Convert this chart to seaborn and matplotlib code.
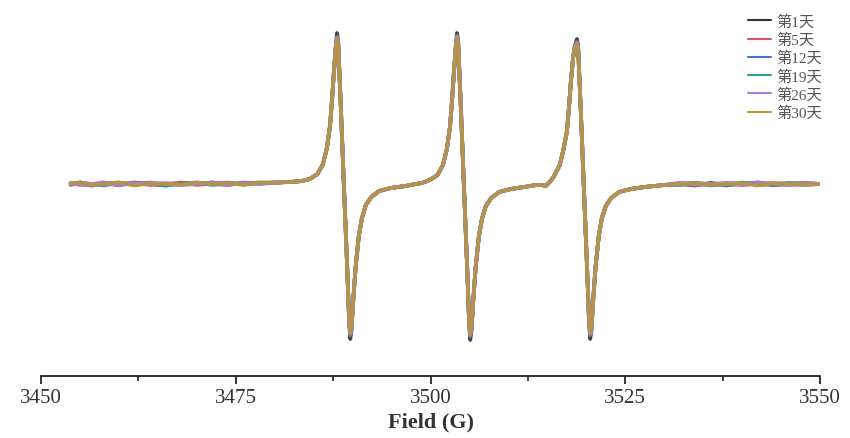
import numpy as np
import pandas as pd
import matplotlib
matplotlib.use("Agg")
import matplotlib.pyplot as plt
import seaborn as sns
from matplotlib.ticker import MultipleLocator

# ---------------- data ----------------
days = ["第1天", "第5天", "第12天", "第19天", "第26天", "第30天"]
colors = ["#333333", "#e0506a", "#4a72c8", "#2e9e8c", "#b07ad8", "#b8963e"]

field = [
    3453.8, 3455.0, 3456.5, 3458.0, 3460.0, 3462.0, 3464.0, 3466.0, 3468.0, 3470.0,
    3472.0, 3474.0, 3476.0, 3478.0, 3480.0, 3481.5,
    3482.0, 3483.5, 3484.5, 3485.5, 3486.2, 3486.7, 3487.1, 3487.35, 3487.6, 3487.85,
    3488.0, 3488.15, 3488.5, 3488.9, 3489.3, 3489.55, 3489.7, 3489.85, 3490.1, 3490.4,
    3490.8, 3491.2, 3491.7, 3492.4, 3493.4, 3494.9, 3496.8,
    3497.4, 3498.9, 3499.9, 3500.9, 3501.6, 3502.1, 3502.5, 3502.75, 3503.0, 3503.25,
    3503.4, 3503.55, 3503.9, 3504.3, 3504.7, 3504.95, 3505.1, 3505.25, 3505.5, 3505.8,
    3506.2, 3506.6, 3507.1, 3507.8, 3508.8, 3510.3, 3512.0,
    3512.8, 3513.6, 3514.3, 3514.8, 3515.3, 3515.8, 3516.6, 3517.0, 3517.5, 3517.75,
    3518.0, 3518.3, 3518.5, 3518.8, 3518.95, 3519.3, 3519.7, 3520.1, 3520.35, 3520.5,
    3520.65, 3520.9, 3521.2, 3521.6, 3522.0, 3522.5, 3523.2, 3524.2, 3525.7, 3527.5,
    3530.0, 3532.0, 3534.0, 3536.0, 3538.0, 3540.0, 3542.0, 3544.0, 3546.0, 3548.0, 3550.0,
]

day1 = [
    0, 1.5, -1, 1, -1, 1.5, 0, -1.5, 1, 0,
    1.5, -0.5, 1, 1, 1.5, 2,
    2, 3, 5, 10, 20, 36, 58, 83, 112, 139,
    151, 142, 75, -5, -82, -137, -155, -147, -114, -82,
    -52, -34, -21, -13, -7, -4, -2,
    -1, 1, 4, 9, 19, 35, 57, 82, 111, 139,
    151, 143, 76, -4, -82, -138, -156, -148, -115, -83,
    -53, -35, -22, -14, -8, -5, -3,
    -2, -1, -1, -2, 2, 7, 19, 32, 52, 74,
    100, 126, 137, 145, 138, 72, -6, -84, -138, -155,
    -147, -114, -82, -52, -34, -22, -14, -8, -5, -3,
    -1, 0, -1.5, 1, -1, 0, 1.5, -1, 0, 1, 0,
]
day5 = [
    1, -0.5, -1.5, 1.5, 0, 1, -1, 0, 1.5, -1,
    0.5, 1.5, -0.5, 0.5, 1, 2,
    2, 3, 5, 10, 20, 36, 58, 83, 112, 137,
    147, 140, 75, -5, -82, -135, -151, -145, -114, -82,
    -52, -34, -21, -13, -7, -4, -2,
    -1, 1, 4, 9, 19, 35, 57, 82, 111, 137,
    148, 141, 76, -4, -82, -136, -152, -146, -115, -83,
    -53, -35, -22, -14, -8, -5, -3,
    -2, -1, -1, -2, 2, 7, 19, 32, 52, 74,
    100, 126, 136, 142, 136, 72, -6, -84, -136, -151,
    -145, -114, -82, -52, -34, -22, -14, -8, -5, -3,
    -1, 1, 0, -1, 1, -1, 0, 1, -1, 0, 0,
]
day12 = [
    -1, 1.5, 0, -1.5, 1, 0, 1.5, -1, 0, 1,
    0, -1, 1.5, 0.5, 1.5, 2,
    2, 3, 5, 10, 20, 36, 58, 83, 112, 137,
    147, 140, 75, -5, -82, -135, -151, -145, -114, -82,
    -52, -34, -21, -13, -7, -4, -2,
    -1, 1, 4, 9, 19, 35, 57, 82, 111, 137,
    148, 141, 76, -4, -82, -136, -152, -146, -115, -83,
    -53, -35, -22, -14, -8, -5, -3,
    -2, -1, -1, -2, 2, 7, 19, 32, 52, 74,
    100, 126, 136, 142, 136, 72, -6, -84, -136, -151,
    -145, -114, -82, -52, -34, -22, -14, -8, -5, -3,
    -1, -1, 1, 0, -1.5, 1, 0, -1, 1, 0, 0,
]
day19 = [
    0, 1, -1.5, 0, 1.5, -1, 1, -1.5, 0, 1.5,
    -1, 1, 0, 1.5, 1, 2,
    2, 3, 5, 10, 20, 36, 58, 83, 112, 137,
    146, 140, 75, -5, -82, -135, -150, -145, -114, -82,
    -52, -34, -21, -13, -7, -4, -2,
    -1, 1, 4, 9, 19, 35, 57, 82, 111, 137,
    147, 141, 76, -4, -82, -136, -151, -146, -115, -83,
    -53, -35, -22, -14, -8, -5, -3,
    -2, -1, -1, -2, 2, 7, 19, 32, 52, 74,
    100, 126, 136, 141, 136, 72, -6, -84, -136, -150,
    -145, -114, -82, -52, -34, -22, -14, -8, -5, -3,
    -1, 0, 1, -1.5, 0, 1.5, -1, 0, 1, -1, 0,
]
day26 = [
    1, -1, 0, 1.5, -1.5, 1, 0, 1, -1, 0,
    1.5, -1, 1, 0, 1.5, 2,
    2, 3, 5, 10, 20, 36, 58, 83, 112, 137,
    146, 140, 75, -5, -82, -135, -150, -145, -114, -82,
    -52, -34, -21, -13, -7, -4, -2,
    -1, 1, 4, 9, 19, 35, 57, 82, 111, 137,
    147, 141, 76, -4, -82, -136, -151, -146, -115, -83,
    -53, -35, -22, -14, -8, -5, -3,
    -2, -1, -1, -2, 2, 7, 19, 32, 52, 74,
    100, 126, 136, 141, 136, 72, -6, -84, -136, -150,
    -145, -114, -82, -52, -34, -22, -14, -8, -5, -3,
    -1, 1, -1, 0, 1, -1, 1.5, 0, -1, 1, 0,
]
day30 = [
    0, 1.5, -1, 0, 1.5, -1.5, 1, 0, -1, 1.5,
    0, 1, -1, 1.5, 1, 2,
    2, 3, 5, 10, 20, 36, 58, 83, 112, 136,
    145, 139, 75, -5, -82, -134, -149, -144, -114, -82,
    -52, -34, -21, -13, -7, -4, -2,
    -1, 1, 4, 9, 19, 35, 57, 82, 111, 136,
    146, 140, 76, -4, -82, -135, -150, -145, -115, -83,
    -53, -35, -22, -14, -8, -5, -3,
    -2, -1, -1, -2, 2, 7, 19, 32, 52, 74,
    100, 126, 135, 140, 135, 72, -6, -84, -135, -149,
    -144, -114, -82, -52, -34, -22, -14, -8, -5, -3,
    -1, 0, 1, -1, 0, 1, -1.5, 1, 0, -1, 0,
]

series = [day1, day5, day12, day19, day26, day30]
x_ticks = [3450, 3475, 3500, 3525, 3550]
x_label = "Field (G)"

# ---------------- build long-form table ----------------
rows = []
for d, vals in zip(days, series):
    for f, v in zip(field, vals):
        rows.append((d, f, v))
df = pd.DataFrame(rows, columns=["day", "field", "intensity"])

# ---------------- plot ----------------
sns.set_theme(style="white")
plt.rcParams["font.family"] = ["Liberation Serif", "Noto Sans CJK SC"]

fig = plt.figure(figsize=(8.5, 4.39), dpi=100)
ax = fig.add_axes([41 / 850, (439 - 377) / 439, (820 - 41) / 850, (377 - 20) / 439])

sns.lineplot(data=df, x="field", y="intensity", hue="day", hue_order=days,
             palette=colors, estimator=None, sort=False, linewidth=2.7,
             alpha=0.9, ax=ax)

ax.set_xlim(3450, 3550)
ax.set_ylim(-192, 165)
ax.set_xticks(x_ticks)
ax.xaxis.set_minor_locator(MultipleLocator(12.5))
ax.set_yticks([])
ax.set_ylabel("")
for s in ["top", "left", "right"]:
    ax.spines[s].set_visible(False)
ax.spines["bottom"].set_color("#222222")
ax.spines["bottom"].set_linewidth(1.3)
ax.tick_params(axis="x", which="major", direction="out", length=6, width=1.3,
               color="#222222", labelsize=15, labelcolor="#333333", bottom=True, pad=3)
ax.tick_params(axis="x", which="minor", direction="out", length=3.5, width=1.2,
               color="#222222", bottom=True)
ax.set_xlabel(x_label, fontsize=16, fontweight="bold", color="#333333", labelpad=3)

leg = ax.legend(loc="upper right", bbox_to_anchor=(1.01, 1.03), frameon=False,
                fontsize=11, handlelength=1.5, handletextpad=0.3, labelspacing=0.25,
                borderaxespad=0.0)
for line in leg.get_lines():
    line.set_linewidth(1.5)
    line.set_alpha(1.0)
for t in leg.get_texts():
    t.set_color("#555555")

fig.savefig("out.png", dpi=100)
